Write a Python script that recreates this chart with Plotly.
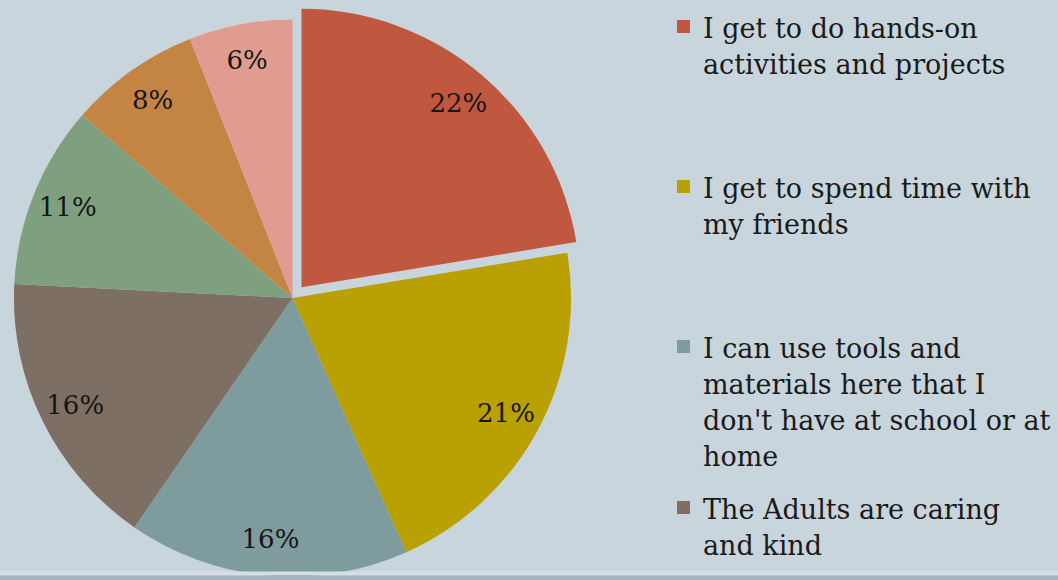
import plotly.graph_objects as go

# ---------------- data ----------------
categories = [
    "I get to do hands-on activities and projects",
    "I get to spend time with my friends",
    "I can use tools and materials here that I don't have at school or at home",
    "The Adults are caring and kind",
    "Reason 5",
    "Reason 6",
    "Reason 7",
]
# slice sizes (labels show them rounded)
values = [22.4, 20.9, 16.3, 16.2, 10.6, 7.6, 6.0]
colors = ["#BF583F", "#B9A003", "#7E9B9E", "#7E6F64", "#7FA07F", "#C48443", "#E09C91"]
pulls = [0.05, 0, 0, 0, 0, 0, 0]

# legend text as shown (only first four entries are visible)
legend_lines = [
    ["I get to do hands-on", "activities and projects"],
    ["I get to spend time with", "my friends"],
    ["I can use tools and", "materials here that I", "don't have at school or at", "home"],
    ["The Adults are caring", "and kind"],
]

# ---------------- layout helpers ----------------
W, H = 1058, 600
BG = "#C9D5DC"
FONT = "DejaVu Serif"


def px(x):
    return x / W


def py(y):
    return 1 - y / H


domain = dict(x=[0.0, 0.5529], y=[0.015, 0.9917])

fig = go.Figure()

# base pie (slices)
fig.add_trace(go.Pie(
    labels=categories, values=values, sort=False, direction="clockwise", rotation=0,
    marker=dict(colors=colors, line=dict(width=0)), pull=pulls,
    textinfo="none", domain=domain, showlegend=False, hoverinfo="label+percent",
))

# transparent ring overlay used only to place percentage labels near the rim
fig.add_trace(go.Pie(
    labels=categories, values=values, sort=False, direction="clockwise", rotation=0,
    marker=dict(colors=["rgba(0,0,0,0)"] * len(values), line=dict(width=0)), pull=pulls,
    hole=0.74, texttemplate="%{percent:.0%}", textposition="inside",
    insidetextorientation="horizontal",
    insidetextfont=dict(family=FONT, size=26, color="#151515"),
    domain=domain, showlegend=False, hoverinfo="skip",
))

# manual legend (squares + text lines)
first_baselines = [38, 198, 358, 519]
line_gap = 36.0
fs = 27
shapes = []
annotations = []
for i, lines in enumerate(legend_lines):
    b0 = first_baselines[i]
    sq_c = b0 - 11.5
    shapes.append(dict(type="rect", xref="paper", yref="paper",
                       x0=px(677), x1=px(690), y0=py(sq_c + 6.5), y1=py(sq_c - 6.5),
                       fillcolor=colors[i], line=dict(width=0)))
    for j, t in enumerate(lines):
        b = b0 + j * line_gap
        annotations.append(dict(text=t, x=px(701), y=py(b - 0.346 * fs), xref="paper", yref="paper",
                                xanchor="left", yanchor="middle", showarrow=False,
                                font=dict(family=FONT, size=fs, color="#1a1a1a")))

# bottom border strip of the slide
shapes.append(dict(type="rect", xref="paper", yref="paper", x0=0, x1=1,
                   y0=py(575.5), y1=py(571.5), fillcolor="#D4DEE3", line=dict(width=0), layer="above"))
shapes.append(dict(type="rect", xref="paper", yref="paper", x0=0, x1=1,
                   y0=0, y1=py(575.5), fillcolor="#A2B4BD", line=dict(width=0), layer="above"))

fig.update_layout(
    width=W, height=H,
    margin=dict(l=0, r=0, t=0, b=0),
    paper_bgcolor=BG, plot_bgcolor=BG,
    shapes=shapes, annotations=annotations,
    showlegend=False,
    font=dict(family=FONT),
)

fig.write_html(
    "out.html",
    post_script="document.documentElement.style.overflow='hidden';document.body.style.overflow='hidden';",
)
